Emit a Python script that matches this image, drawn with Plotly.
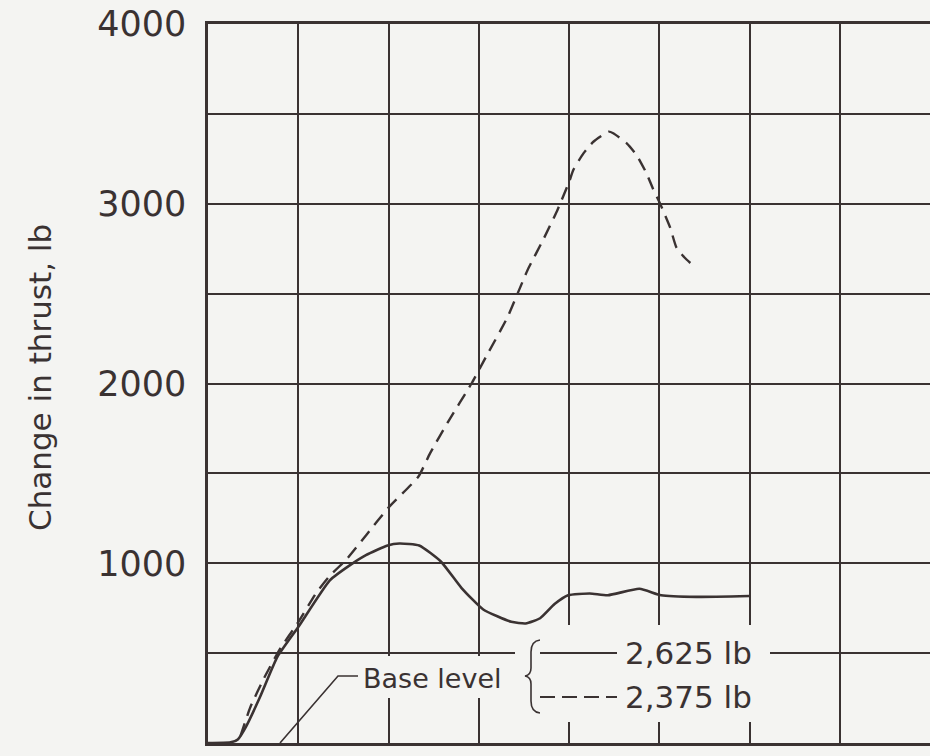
import plotly.graph_objects as go

# ---- data (x in grid divisions, y in lb) ----
solid_x = [0.0, 0.25, 0.33, 0.42, 0.58, 0.77, 1.0, 1.35, 1.59, 1.75, 1.99, 2.12, 2.34,
           2.58, 2.81, 3.05, 3.36, 3.52, 3.68, 3.84, 3.99, 4.23, 4.43, 4.78, 5.02, 5.41, 6.0]
solid_y = [0, 4, 20, 90, 260, 480, 645, 905, 995, 1045, 1099, 1110, 1099,
           1010, 862, 743, 674, 665, 694, 773, 822, 832, 822, 858, 822, 813, 818]

dash_x = [0.36, 0.47, 0.62, 0.80, 0.99, 1.2, 1.35, 1.54, 1.75, 2.0, 2.33, 2.46, 2.66, 2.92, 3.08,
          3.32, 3.43, 3.54, 3.72, 3.87, 4.0, 4.05, 4.16, 4.27, 4.44, 4.49, 4.64, 4.75, 4.86, 4.93,
          5.01, 5.12, 5.19, 5.28, 5.39]
dash_y = [40, 200, 360, 525, 665, 835, 930, 1025, 1155, 1310, 1481, 1611, 1787, 2000, 2148,
          2370, 2500, 2630, 2806, 2963, 3120, 3190, 3280, 3345, 3401, 3392, 3336, 3270, 3168, 3084,
          3000, 2869, 2757, 2701, 2650]

y_tickvals = [0, 500, 1000, 1500, 2000, 2500, 3000, 3500, 4000]
y_ticktext = ["0", "", "1000", "", "2000", "", "3000", "", "4000"]
legend_labels = ["2,625 lb", "2,375 lb"]
base_label = "Base level"
y_title = "Change in thrust, lb"

# ---- styling / layout geometry ----
BG = "#f4f4f2"
INK = "#3a3232"
W, H = 930, 756
L, R, T, B = 208, 930, 24, 743
XMAX, YMAX = 8, 4000


def X(px):
    return (px - L) / (R - L) * XMAX


def Y(py):
    return (B - py) / (B - T) * YMAX


fig = go.Figure()
fig.add_trace(go.Scatter(x=solid_x, y=solid_y, mode="lines",
                         line=dict(color=INK, width=2.6, shape="spline", smoothing=0.5),
                         showlegend=False, hoverinfo="skip"))
fig.add_trace(go.Scatter(x=dash_x, y=dash_y, mode="lines",
                         line=dict(color=INK, width=2.4, dash="13px,8px", shape="spline", smoothing=0.5),
                         showlegend=False, hoverinfo="skip"))

shapes = []
# masks behind legend text (between grid and traces)
shapes.append(dict(type="rect", layer="between", x0=X(515), x1=X(770), y0=Y(722), y1=Y(625),
                   fillcolor=BG, line=dict(width=0)))
shapes.append(dict(type="rect", layer="between", x0=X(359), x1=X(515), y0=Y(698), y1=Y(656),
                   fillcolor=BG, line=dict(width=0)))
# legend lines
shapes.append(dict(type="line", x0=X(540), x1=X(617), y0=Y(653), y1=Y(653), line=dict(color=INK, width=2)))
shapes.append(dict(type="line", x0=X(540), x1=X(617), y0=Y(697), y1=Y(697),
                   line=dict(color=INK, width=2, dash="15px,7px")))
# leader line for base level
shapes.append(dict(type="path",
                   path=f"M {X(358)},{Y(676)} L {X(338)},{Y(676)} L {X(280)},{Y(743)}",
                   line=dict(color=INK, width=1.6)))
# brace
bx = 531
shapes.append(dict(type="path",
                   path=(f"M {X(bx+9)},{Y(640)} Q {X(bx)},{Y(641)} {X(bx)},{Y(652)} "
                         f"L {X(bx)},{Y(668)} Q {X(bx)},{Y(675)} {X(bx-6)},{Y(676)} "
                         f"Q {X(bx)},{Y(677)} {X(bx)},{Y(684)} "
                         f"L {X(bx)},{Y(701)} Q {X(bx)},{Y(712)} {X(bx+9)},{Y(713)}"),
                   line=dict(color=INK, width=1.6)))

annotations = [
    dict(x=X(361), y=Y(678), text=base_label, showarrow=False, xanchor="left", yanchor="middle",
         font=dict(family="DejaVu Sans", size=27, color=INK)),
    dict(x=X(623), y=Y(653), text=legend_labels[0], showarrow=False, xanchor="left", yanchor="middle",
         font=dict(family="DejaVu Sans", size=31, color=INK)),
    dict(x=X(623), y=Y(697), text=legend_labels[1], showarrow=False, xanchor="left", yanchor="middle",
         font=dict(family="DejaVu Sans", size=31, color=INK)),
    dict(x=(40 - L) / (R - L), y=(B - 378) / (B - T), xref="paper", yref="paper",
         yanchor="middle", xanchor="center",
         text=y_title, textangle=-90, showarrow=False,
         font=dict(family="DejaVu Sans", size=31, color=INK)),
]

fig.update_layout(
    width=W, height=H, autosize=False,
    paper_bgcolor=BG, plot_bgcolor=BG,
    margin=dict(l=L, r=W - R, t=T, b=H - B, pad=0),
    showlegend=False,
    shapes=shapes,
    annotations=annotations,
    xaxis=dict(range=[0, XMAX], dtick=1, tick0=0, showticklabels=False, ticks="",
               showgrid=True, gridcolor=INK, gridwidth=2, zeroline=False,
               showline=True, linecolor=INK, linewidth=2.5, mirror=True),
    yaxis=dict(range=[0, YMAX], tickvals=y_tickvals, ticktext=y_ticktext, ticks="",
               ticklabelstandoff=12,
               tickfont=dict(family="DejaVu Sans", size=35, color=INK),
               showgrid=True, gridcolor=INK, gridwidth=2, zeroline=False,
               showline=True, linecolor=INK, linewidth=2.5),
)

post = ("document.body.style.margin='0';document.body.style.padding='0';"
        "document.body.style.background='" + BG + "';"
        "var gd=document.getElementById('{plot_id}');"
        "Plotly.relayout(gd,{width:" + str(W) + ",height:" + str(H) + "});")

fig.write_html("out.html", config={"responsive": False, "displayModeBar": False}, post_script=post,
               default_width=f"{W}px", default_height=f"{H}px")
